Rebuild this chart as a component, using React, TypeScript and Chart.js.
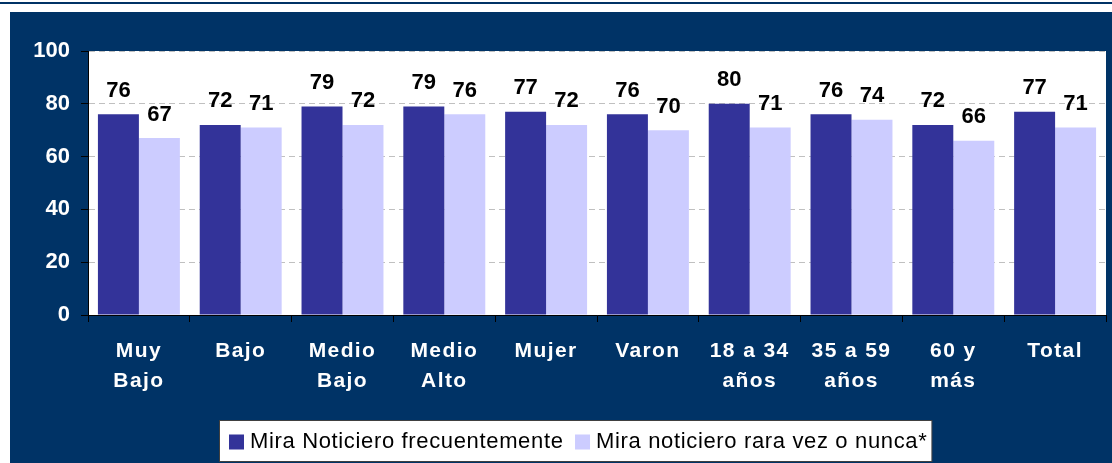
import React, { useEffect, useRef } from 'react';
import { Chart, registerables, CategoryScale } from 'chart.js';

const categories: string[][] = [
  ['Muy', 'Bajo'],
  ['Bajo'],
  ['Medio', 'Bajo'],
  ['Medio', 'Alto'],
  ['Mujer'],
  ['Varon'],
  ['18 a 34', 'años'],
  ['35 a 59', 'años'],
  ['60 y', 'más'],
  ['Total'],
];
const seriesNames = ['Mira Noticiero frecuentemente', 'Mira noticiero rara vez o nunca*'];
const frecuentemente = [76, 72, 79, 79, 77, 76, 80, 76, 72, 77];
const raraVez = [67, 71, 72, 76, 72, 70, 71, 74, 66, 71];
const yMin = 0;
const yMax = 100;
const yStep = 20;

const NAVY = '#003366';
const DARK = '#333399';
const LIGHT = '#CCCCFF';
const FONT = '"Liberation Sans", Arial, Helvetica, sans-serif';

class SpacedCategoryScale extends CategoryScale {
  static id = 'spacedCategory';
  static defaults = (CategoryScale as any).defaults;
  drawLabels(chartArea: any) {
    const ctx: any = (this as any).ctx;
    ctx.save();
    ctx.letterSpacing = '1.4px';
    (CategoryScale.prototype as any).drawLabels.call(this, chartArea);
    ctx.restore();
  }
}

Chart.register(...registerables, SpacedCategoryScale);

const backgroundPlugin = {
  id: 'bgFrame',
  beforeDraw(chart: any) {
    const { ctx, width, height, chartArea } = chart;
    ctx.save();
    ctx.fillStyle = '#ffffff';
    ctx.fillRect(0, 0, width, height);
    ctx.fillStyle = NAVY;
    ctx.fillRect(0, 2, width, 2);
    ctx.fillRect(10, 12, width - 10, height - 12);
    ctx.fillStyle = '#ffffff';
    ctx.fillRect(chartArea.left, chartArea.top, chartArea.right - chartArea.left, chartArea.bottom - chartArea.top);
    ctx.restore();
  },
};

const valueLabelPlugin = {
  id: 'valueLabels',
  afterDatasetsDraw(chart: any) {
    const { ctx } = chart;
    ctx.save();
    ctx.font = `bold 22px ${FONT}`;
    ctx.fillStyle = '#000000';
    ctx.textAlign = 'center';
    ctx.textBaseline = 'alphabetic';
    chart.data.datasets.forEach((ds: any, di: number) => {
      const meta = chart.getDatasetMeta(di);
      meta.data.forEach((el: any, i: number) => {
        ctx.fillText(String(ds.data[i]), el.x, el.y - 17.5);
      });
    });
    ctx.restore();
  },
};

const legendBoxPlugin = {
  id: 'legendBox',
  afterDraw(chart: any) {
    const { ctx } = chart;
    ctx.save();
    ctx.font = `22px ${FONT}`;
    ctx.letterSpacing = '0.65px';
    const marker = 15;
    const gapText = 6;
    const gapItem = 11.5;
    const padL = 9.5;
    const padR = 4.5;
    const widths = chart.data.datasets.map((ds: any) => ctx.measureText(ds.label).width);
    let content = 0;
    widths.forEach((w: number, i: number) => {
      content += marker + gapText + w + (i < widths.length - 1 ? gapItem : 0);
    });
    const boxW = content + padL + padR;
    const boxX = 219.5;
    const boxY = 420.5;
    const boxH = 41;
    ctx.fillStyle = '#ffffff';
    ctx.fillRect(boxX, boxY, boxW, boxH);
    ctx.strokeStyle = '#404040';
    ctx.lineWidth = 1;
    ctx.strokeRect(boxX, boxY, boxW, boxH);
    let x = boxX + padL;
    const baseline = 447.5;
    chart.data.datasets.forEach((ds: any, i: number) => {
      ctx.fillStyle = ds.backgroundColor;
      ctx.fillRect(x, 434.5, marker, marker);
      x += marker + gapText;
      ctx.fillStyle = '#000000';
      ctx.textAlign = 'left';
      ctx.textBaseline = 'alphabetic';
      ctx.fillText(ds.label, x, baseline);
      x += widths[i] + gapItem;
    });
    ctx.restore();
  },
};

export default function App() {
  const canvasRef = useRef<HTMLCanvasElement | null>(null);

  useEffect(() => {
    document.body.style.margin = '0';
    const canvas = canvasRef.current;
    if (!canvas) return;
    const chart = new Chart(canvas, {
      type: 'bar',
      data: {
        labels: categories,
        datasets: [
          {
            label: seriesNames[0],
            data: frecuentemente,
            backgroundColor: DARK,
            borderWidth: 0,
            categoryPercentage: 0.805,
            barPercentage: 1,
          },
          {
            label: seriesNames[1],
            data: raraVez,
            backgroundColor: LIGHT,
            borderWidth: 0,
            categoryPercentage: 0.805,
            barPercentage: 1,
          },
        ],
      },
      options: {
        responsive: false,
        animation: false,
        devicePixelRatio: 1,
        layout: { padding: { left: 10, top: 51, right: 6, bottom: 48 } },
        plugins: {
          legend: { display: false },
          tooltip: { enabled: false },
          title: { display: false },
        },
        scales: {
          x: {
            type: 'spacedCategory',
            offset: true,
            afterFit: (scale: any) => {
              scale.height = 100;
            },
            grid: {
              display: true,
              drawOnChartArea: false,
              drawTicks: true,
              tickLength: 7,
              tickColor: '#000000',
              offset: true,
            },
            border: { display: true, color: '#000000', width: 1 },
            ticks: {
              color: '#ffffff',
              autoSkip: false,
              maxRotation: 0,
              minRotation: 0,
              padding: 14,
              font: { family: FONT, size: 21, weight: 'bold', lineHeight: 30 / 21 },
            },
          },
          y: {
            min: yMin,
            max: yMax,
            afterFit: (scale: any) => {
              scale.width = 78;
            },
            grid: {
              color: '#c0c0c0',
              lineWidth: 1,
              drawTicks: true,
              tickLength: 7,
              tickColor: '#000000',
              tickBorderDash: [],
            },
            border: { display: true, color: '#000000', width: 1, dash: [6, 4] },
            ticks: {
              stepSize: yStep,
              color: '#ffffff',
              padding: 11,
              font: { family: FONT, size: 22, weight: 'bold' },
            },
          },
        },
      } as any,
      plugins: [backgroundPlugin, valueLabelPlugin, legendBoxPlugin],
    });
    return () => chart.destroy();
  }, []);

  return (
    <div style={{ position: 'absolute', left: 0, top: 0, width: 1112, height: 463 }}>
      <canvas ref={canvasRef} width={1112} height={463} style={{ display: 'block' }} />
    </div>
  );
}
